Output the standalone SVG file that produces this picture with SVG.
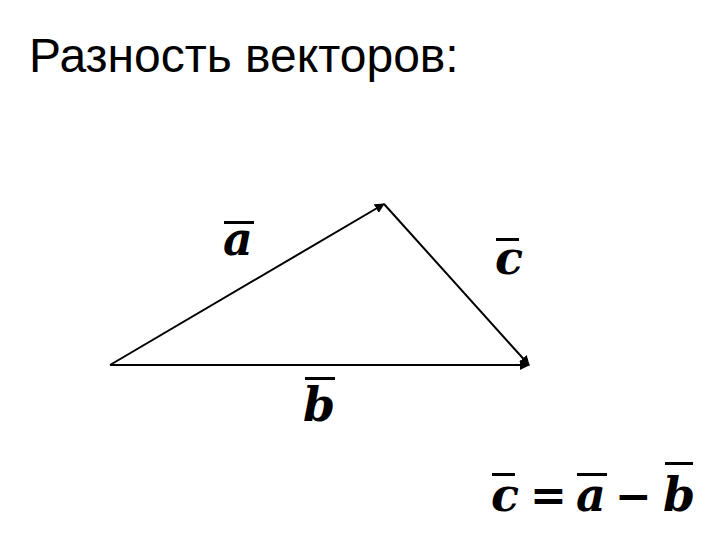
<svg xmlns="http://www.w3.org/2000/svg" width="720" height="540" viewBox="0 0 720 540">
<style>
.title{font-family:"Liberation Sans",Arial,sans-serif;font-size:48px;fill:#000}
.m{font-family:"DejaVu Serif","Liberation Serif",serif;font-weight:bold;font-style:italic;font-size:46px;fill:#000}
.op{font-family:"DejaVu Serif","Liberation Serif",serif;font-weight:bold;font-size:44px;fill:#000}
.bar{fill:#000}
.vec{stroke:#000;stroke-width:2;fill:none;marker-end:url(#ah)}
</style>
<defs>
<marker id="ah" viewBox="0 0 10 10" refX="9" refY="5" markerWidth="5" markerHeight="5" orient="auto" markerUnits="strokeWidth">
<path d="M0,0 L10,5 L0,10 z" fill="#000"/>
</marker>
</defs>
<rect width="720" height="540" fill="#fff"/>
<text id="title" class="title" x="29" y="72">Разность векторов:</text>
<g id="connectors">
<line id="vec-a" class="vec" x1="110" y1="365" x2="384" y2="204"/>
<line id="vec-c" class="vec" x1="384" y1="204" x2="529" y2="365"/>
<line id="vec-b" class="vec" x1="110" y1="365" x2="529" y2="365"/>
</g>
<g id="label-a">
<rect class="bar" x="224" y="221" width="30" height="3"/>
<text class="m" x="223" y="255">a</text>
</g>
<g id="label-c">
<rect class="bar" x="496" y="238" width="23" height="3"/>
<text class="m" x="495" y="274">c</text>
</g>
<g id="label-b">
<rect class="bar" x="305" y="377" width="30" height="3"/>
<text class="m" x="303" y="421">b</text>
</g>
<g id="equation">
<rect class="bar" x="492" y="473" width="23" height="3"/>
<text class="m" x="491" y="511">c</text>
<text class="op" x="530" y="511">=</text>
<rect class="bar" x="577" y="473" width="30" height="3"/>
<text class="m" x="576" y="511">a</text>
<text class="op" x="615" y="511">−</text>
<rect class="bar" x="665" y="462" width="28" height="3"/>
<text class="m" x="663" y="511">b</text>
</g>
</svg>
